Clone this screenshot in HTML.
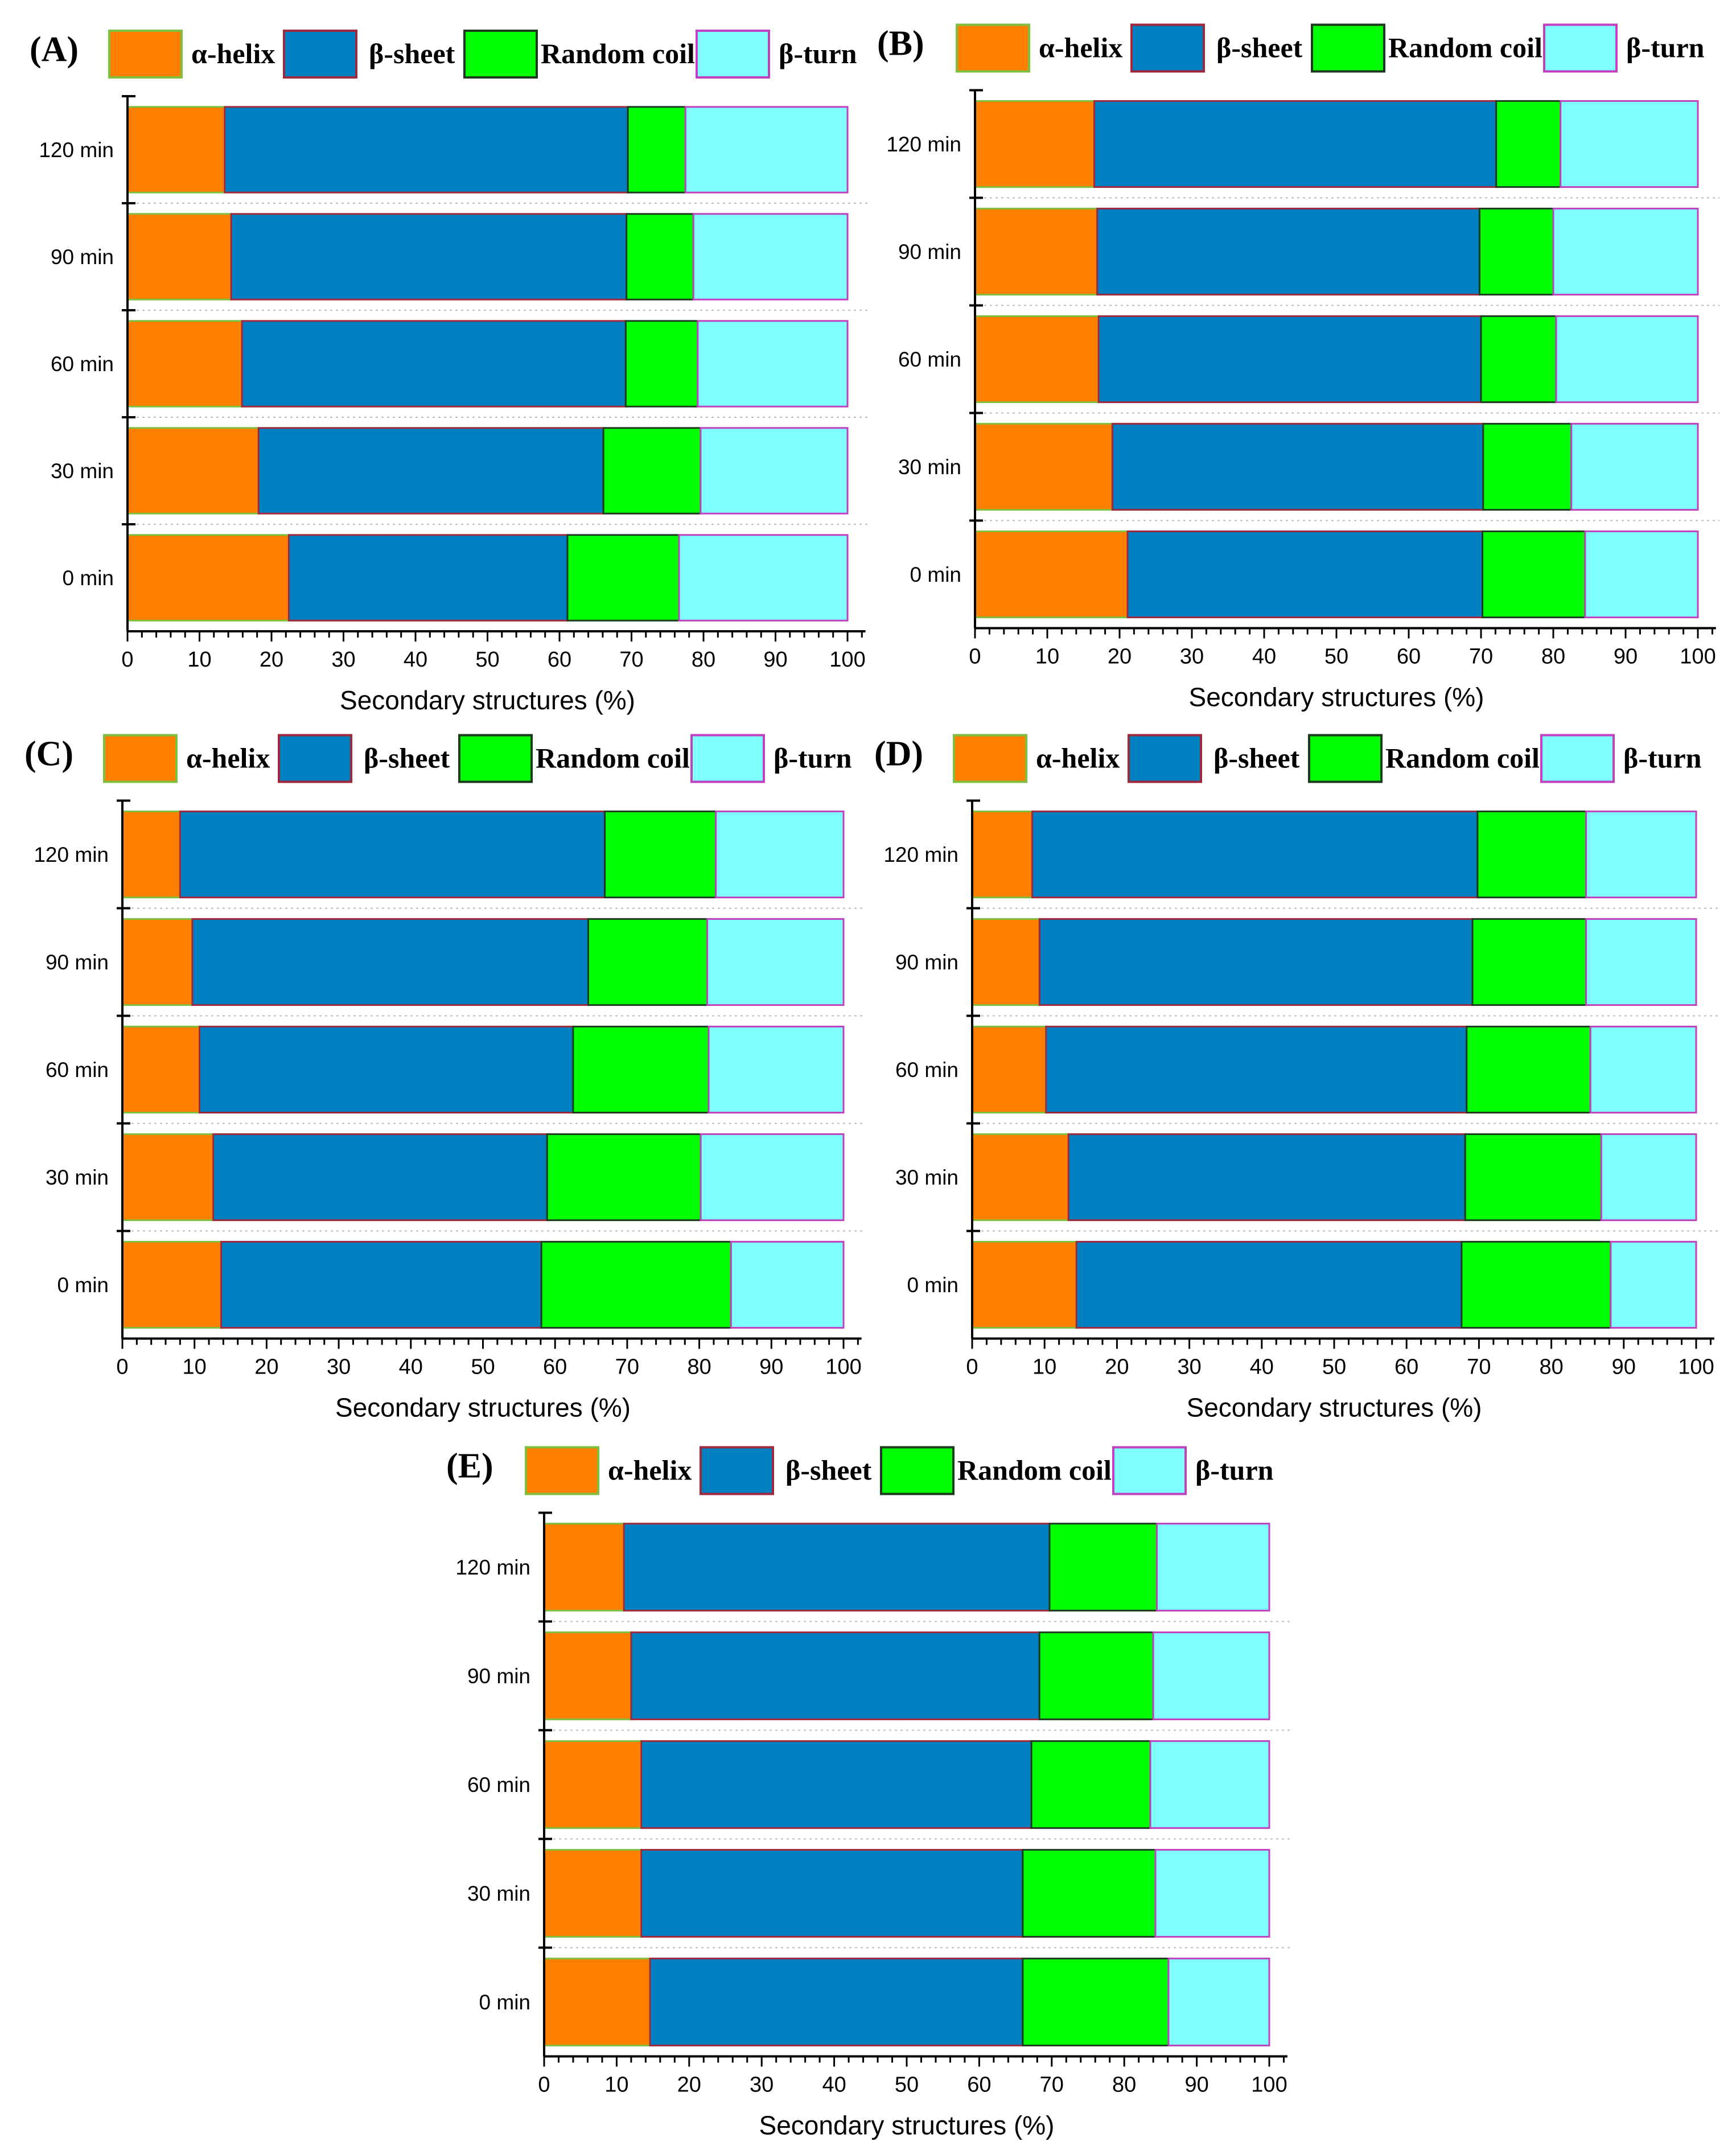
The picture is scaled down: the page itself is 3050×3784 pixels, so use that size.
<!DOCTYPE html>
<html><head><meta charset="utf-8"><style>
html,body{margin:0;padding:0;background:#fff;}
svg{display:block;}
</style></head><body>
<svg id="fig" width="3050" height="3784" viewBox="0 0 3050 3784" xmlns="http://www.w3.org/2000/svg"></svg>
<script>
const categories = ["120 min","90 min","60 min","30 min","0 min"];
const seriesNames = ["α-helix","β-sheet","Random coil","β-turn"];
const xTicks = [0,10,20,30,40,50,60,70,80,90,100];
// Per-panel values (%), rows follow categories order
const helixA = [13.5,14.4,15.9,18.2,22.4];
const sheetA = [56.0,54.9,53.3,47.9,38.7];
const coilA  = [8.0,9.3,10.0,13.5,15.5];
const helixB = [16.5,16.9,17.1,19.0,21.1];
const sheetB = [55.6,52.9,52.9,51.3,49.1];
const coilB  = [8.9,10.2,10.4,12.2,14.2];
const helixC = [8.0,9.7,10.7,12.6,13.7];
const sheetC = [58.9,54.9,51.8,46.3,44.4];
const coilC  = [15.4,16.5,18.8,21.3,26.3];
const helixD = [8.3,9.3,10.2,13.3,14.4];
const sheetD = [61.5,59.8,58.1,54.8,53.2];
const coilD  = [15.0,15.7,17.1,18.8,20.6];
const helixE = [11.0,12.0,13.4,13.4,14.6];
const sheetE = [58.7,56.3,53.8,52.6,51.4];
const coilE  = [14.8,15.7,16.4,18.3,20.1];

const NS="http://www.w3.org/2000/svg";
const svg=document.getElementById('fig');
function mk(tag,attrs,parent){const e=document.createElementNS(NS,tag);for(const k in attrs)e.setAttribute(k,attrs[k]);(parent||svg).appendChild(e);return e;}
const fills=["#FF8000","#0080C0","#00FF00","#80FFFF"];
const strokes=["#7FBF3F","#A0283C","#1E3A1E","#C040C0"];

function panel(label,x0,x1,c0,sp,helix,sheet,coil){
  const g=mk('g',{});
  
  
  const xs=v=>x0+(x1-x0)*v/100;
  const top=c0-sp/2, base=c0+sp*4.5, bh=sp*0.8;
  const pl=mk('text',{x:x0-172,y:top-62,'font-family':'Liberation Serif, serif','font-weight':'bold','font-size':62,fill:'#000'},g);
  pl.textContent='('+label+')';
  
  
  const sw=[-32,275,592,1000], tx=[112,424,726,1144];
  for(let s=0;s<4;s++){
    const r=mk('rect',{x:x0+sw[s],y:top-115,width:127,height:82,fill:fills[s],stroke:strokes[s],'stroke-width':4},g);
    
    
    const t=mk('text',{x:x0+tx[s],y:top-58,'font-family':'Liberation Serif, serif','font-weight':'bold','font-size':50,fill:'#000'},g);
    t.textContent=seriesNames[s];
    
    
  }
  for(let i=0;i<=5;i++){
    const y=top+i*sp;
    if(i>0&&i<5){const d=mk('line',{x1:x0+6,x2:x1+38,y1:y,y2:y,stroke:'#bbb','stroke-width':2,'stroke-dasharray':'4 6'},g);
      }
    if(i<5){const t=mk('line',{x1:x0-10,x2:x0+14,y1:y,y2:y,stroke:'#000','stroke-width':4},g);
      }
  }
  for(let i=0;i<categories.length;i++){
    const cy=c0+i*sp;
    const vals=[helix[i],sheet[i],coil[i],100-helix[i]-sheet[i]-coil[i]];
    let acc=0;
    for(let s=0;s<4;s++){
      const r=mk('rect',{x:xs(acc),y:cy-bh/2,width:xs(acc+vals[s])-xs(acc),height:bh,fill:fills[s],stroke:strokes[s],'stroke-width':3},g);
      
      
      acc+=vals[s];
    }
    const cl=mk('text',{x:x0-24,y:cy+13,'text-anchor':'end','font-family':'Liberation Sans, sans-serif','font-size':37,fill:'#000'},g);
    cl.textContent=categories[i];
    
    
  }
  const ya=mk('line',{x1:x0,x2:x0,y1:top,y2:base,stroke:'#000','stroke-width':4},g);
  
  const xa=mk('line',{x1:x0,x2:xs(102.5),y1:base,y2:base,stroke:'#000','stroke-width':4},g);
  
  for(let v=0;v<=102;v+=2){
    const major=v%10===0;
    const t=mk('line',{x1:xs(v),x2:xs(v),y1:base,y2:base+(major?18:11),stroke:'#000','stroke-width':3},g);
    
  }
  xTicks.forEach(v=>{
    const t=mk('text',{x:xs(v),y:base+62,'text-anchor':'middle','font-family':'Liberation Sans, sans-serif','font-size':38,fill:'#000'},g);
    t.textContent=v;
    
  });
  const at=mk('text',{x:xs(50),y:base+137,'text-anchor':'middle','font-family':'Liberation Sans, sans-serif','font-size':46,fill:'#000'},g);
  at.textContent='Secondary structures (%)';
  
}
panel('A',224,1489,263,188,helixA,sheetA,coilA);
panel('B',1713,2983,253,189,helixB,sheetB,coilB);
panel('C',215,1482,1501,189,helixC,sheetC,coilC);
panel('D',1708,2980,1501,189,helixD,sheetD,coilD);
panel('E',956,2230,2753,191,helixE,sheetE,coilE);
</script>
</body></html>
